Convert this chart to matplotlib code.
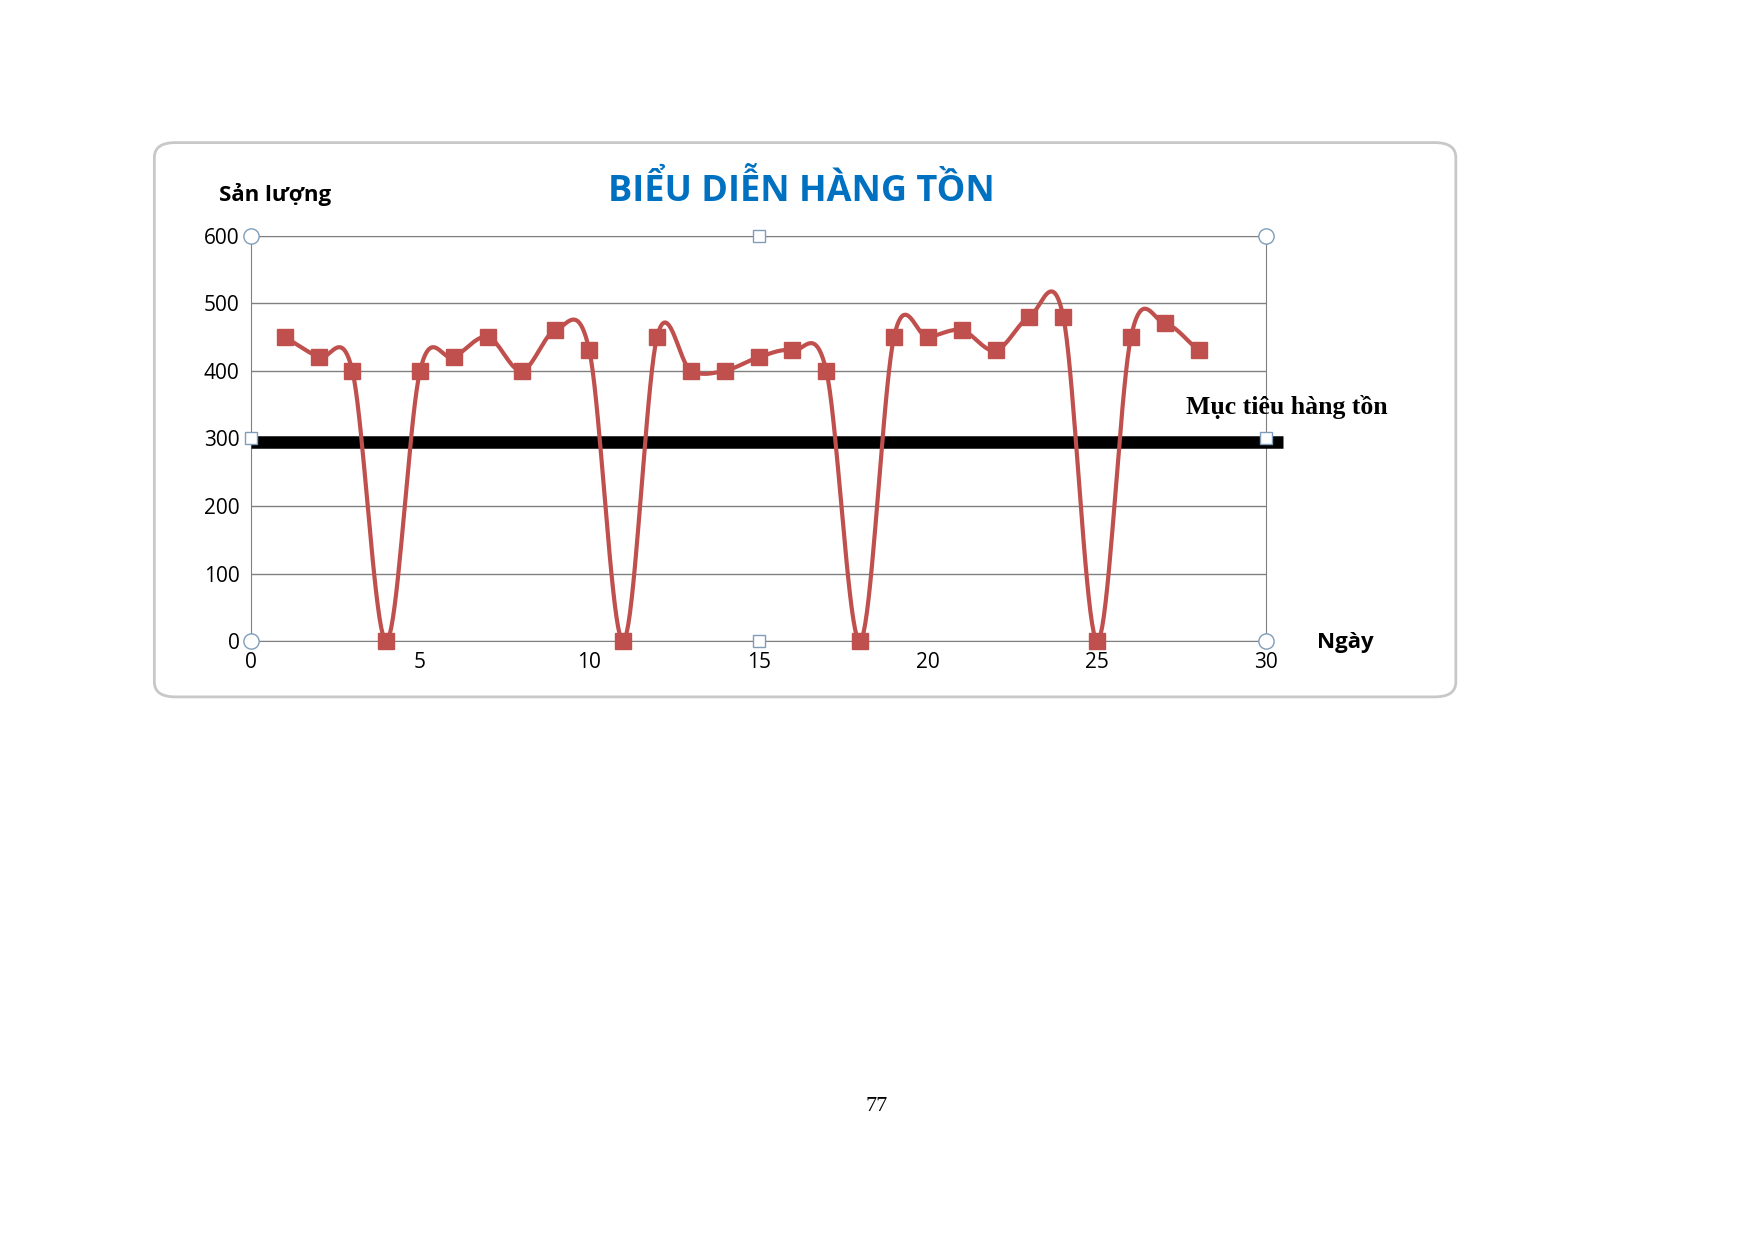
import numpy as np
import matplotlib
matplotlib.use("Agg")
import matplotlib.pyplot as plt
from matplotlib.patches import FancyBboxPatch

days = list(range(1, 29))
stock = [450, 420, 400, 0, 400, 420, 450, 400, 460, 430, 0, 450, 400, 400,
         420, 430, 400, 0, 450, 450, 460, 430, 480, 480, 0, 450, 470, 430]
target_x = [0, 30.5]
target_y = [295, 295]
xticks = [0, 5, 10, 15, 20, 25, 30]
yticks = [0, 100, 200, 300, 400, 500, 600]

def catmull(x, y, n=20):
    x = np.asarray(x, float); y = np.asarray(y, float)
    px = np.concatenate([[2*x[0]-x[1]], x, [2*x[-1]-x[-2]]])
    py = np.concatenate([[2*y[0]-y[1]], y, [2*y[-1]-y[-2]]])
    ox, oy = [], []
    t = np.linspace(0, 1, n, endpoint=False)
    for i in range(1, len(px)-2):
        for P, out in ((px, ox), (py, oy)):
            p0, p1, p2, p3 = P[i-1], P[i], P[i+1], P[i+2]
            out.extend(0.5*((2*p1) + (-p0+p2)*t + (2*p0-5*p1+4*p2-p3)*t**2 + (-p0+3*p1-3*p2+p3)*t**3))
    ox.append(x[-1]); oy.append(y[-1])
    return np.array(ox), np.array(oy)

fig = plt.figure(figsize=(17.54, 12.40), dpi=100)
fig.patches.append(FancyBboxPatch((0.088, 0.438), 0.742, 0.447, boxstyle="round,pad=0,rounding_size=0.012",
                                  transform=fig.transFigure, fc="white", ec="#c8c8c8", lw=2, zorder=-5))
ax = fig.add_axes([0.143, 0.483, 0.579, 0.327])
ax.patch.set_alpha(0)
ax.set_xlim(0, 30); ax.set_ylim(0, 600)
ax.set_xticks(xticks); ax.set_yticks(yticks)
ax.grid(axis="y", color="#808080", lw=1)
for s in ax.spines.values():
    s.set_color("#808080")
ax.tick_params(length=0, labelsize=15, pad=8)
for lab in ax.get_xticklabels() + ax.get_yticklabels():
    lab.set_fontfamily("Open Sans")
ax.plot(target_x, target_y, color="black", lw=9, solid_capstyle="butt", clip_on=False, zorder=3)
sx, sy = catmull(days, stock)
ax.plot(sx, sy, color="#c0504d", lw=3, zorder=4)
ax.plot(days, stock, "s", color="#c0504d", ms=12, zorder=5, clip_on=False)
for hx, hy in [(0, 0), (0, 600), (30, 0), (30, 600)]:
    ax.plot(hx, hy, "o", ms=11, mfc="white", mec="#7f9db9", clip_on=False, zorder=6)
for hx, hy in [(15, 0), (15, 600), (0, 300), (30, 300)]:
    ax.plot(hx, hy, "s", ms=9, mfc="white", mec="#7f9db9", clip_on=False, zorder=6)
fig.text(0.457, 0.846, "BIỂU DIỄN HÀNG TỒN", ha="center", va="center", color="#0070C0",
         fontsize=26, fontweight="bold", family="Open Sans")
fig.text(0.125, 0.843, "Sản lượng", ha="left", va="center", fontsize=16, fontweight="bold", family="Open Sans")
fig.text(0.751, 0.482, "Ngày", ha="left", va="center", fontsize=16, fontweight="bold", family="Open Sans")
fig.text(0.676, 0.672, "Mục tiêu hàng tồn", ha="left", va="center", fontsize=18.5, fontweight="bold",
         family="Liberation Serif")
fig.text(0.5, 0.108, "77", ha="center", va="center", fontsize=16, family="Liberation Serif")
fig.savefig("out.png", dpi=100)
